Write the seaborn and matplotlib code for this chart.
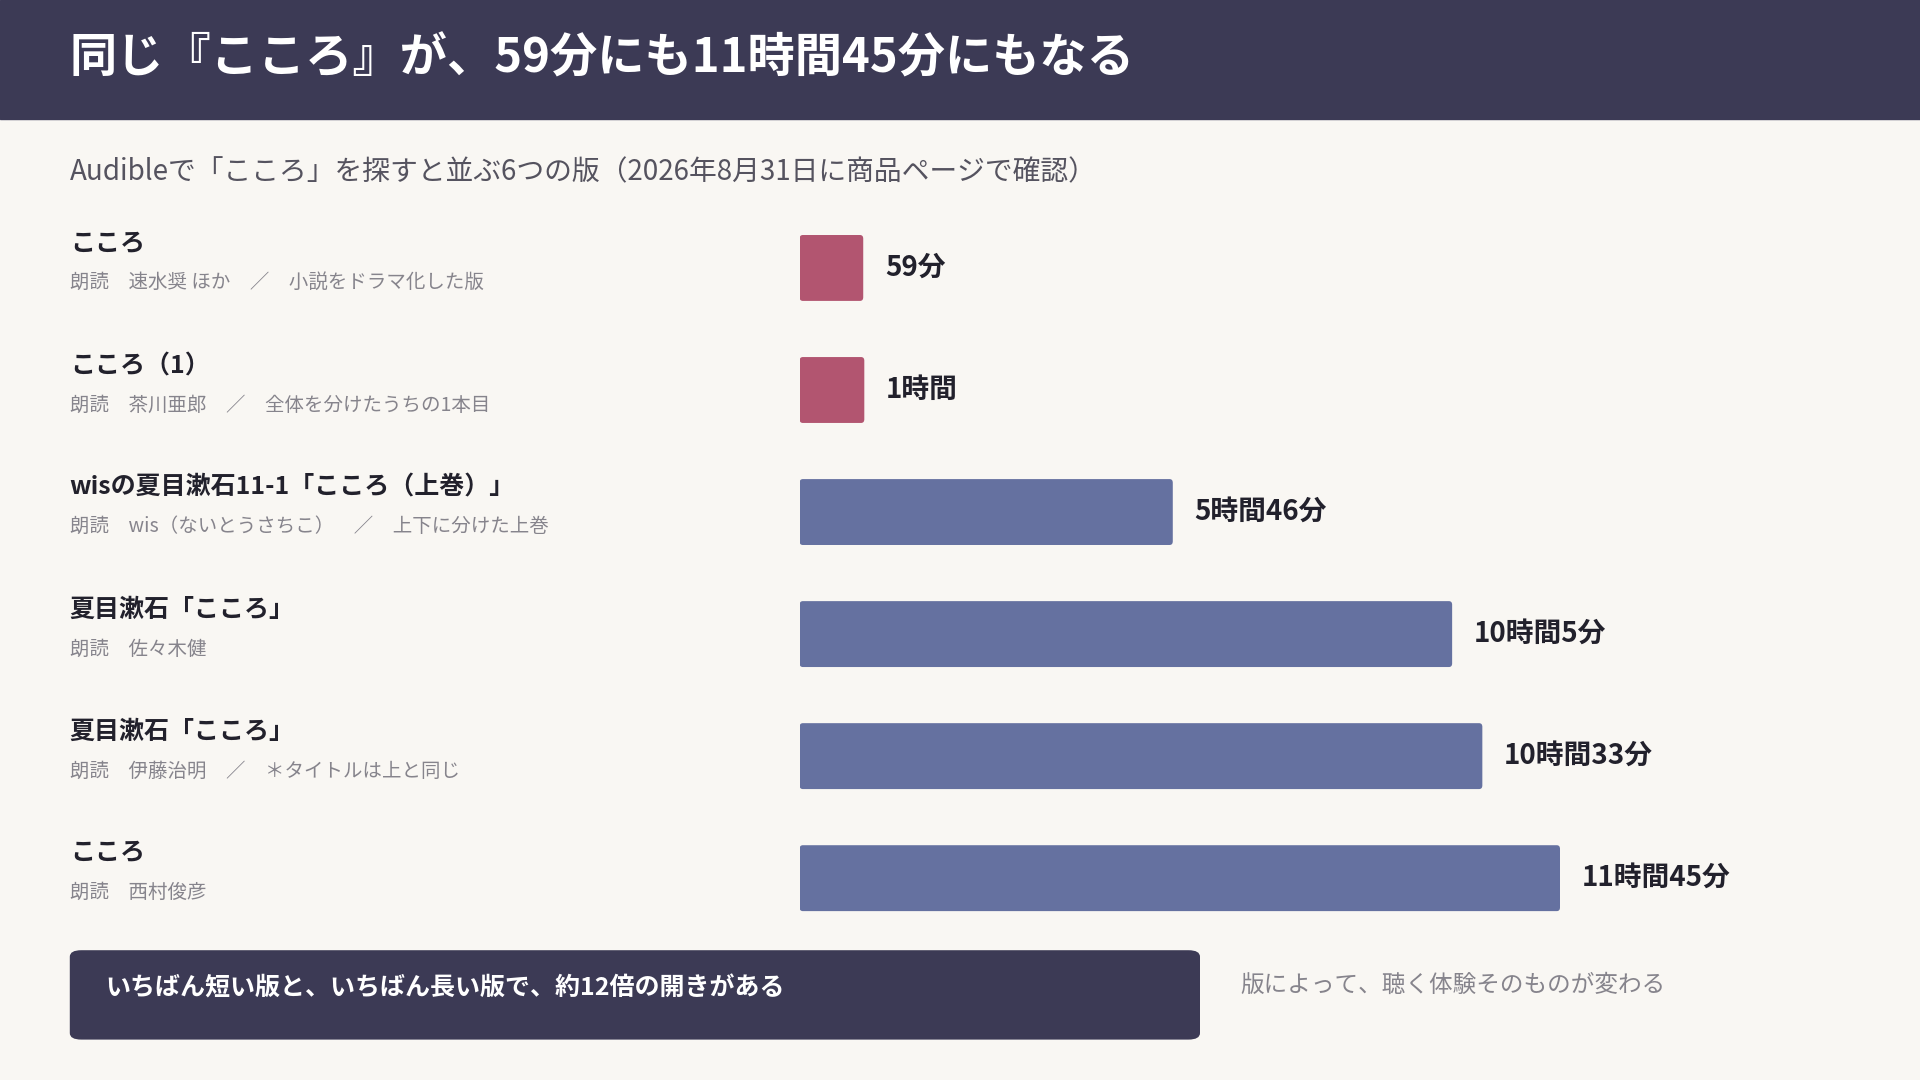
import pandas as pd
import matplotlib.pyplot as plt
import seaborn as sns
from matplotlib.patches import FancyBboxPatch, Rectangle

# data
titles = ["こころ", "こころ（1）", "wisの夏目漱石11-1「こころ（上巻）」",
          "夏目漱石「こころ」", "夏目漱石「こころ」", "こころ"]
notes = ["朗読　速水奨 ほか　／　小説をドラマ化した版",
         "朗読　茶川亜郎　／　全体を分けたうちの1本目",
         "朗読　wis（ないとうさちこ）　／　上下に分けた上巻",
         "朗読　佐々木健",
         "朗読　伊藤治明　／　＊タイトルは上と同じ",
         "朗読　西村俊彦"]
minutes = [59, 60, 346, 605, 633, 705]
value_labels = ["59分", "1時間", "5時間46分", "10時間5分", "10時間33分", "11時間45分"]
groups = ["short", "short", "long", "long", "long", "long"]

BG = "#F9F7F3"
DARK = "#3C3A55"
RED = "#C2456A"
BLUE = "#5B6BAA"
W, H = 1568, 882  # reference layout units

sns.set_theme(style="white")
plt.rcParams['font.family'] = ['Noto Sans CJK JP', 'DejaVu Sans']

fig = plt.figure(figsize=(19.2, 10.8), dpi=100, facecolor=BG)

def fx(x): return x / W
def fy(y): return 1 - y / H

# header band
fig.patches.append(Rectangle((0, fy(97)), 1, 97 / H, transform=fig.transFigure, color=DARK, zorder=0))
fig.text(fx(57), fy(48), "同じ『こころ』が、59分にも11時間45分にもなる", color="white",
         fontsize=34, fontweight="bold", va="center")
fig.text(fx(57), fy(141), "Audibleで「こころ」を探すと並ぶ6つの版（2026年8月31日に商品ページで確認）",
         color="#55535F", fontsize=20, va="center")

df = pd.DataFrame({"id": [str(i) for i in range(6)], "minutes": minutes, "group": groups})

ax = fig.add_axes([fx(653), fy(767), fx(1274) - fx(653), (767 - 169) / H])
ax.set_facecolor("none")
sns.barplot(data=df, x="minutes", y="id", hue="group", palette={"short": RED, "long": BLUE},
            dodge=False, width=0.52, legend=False, ax=ax)
ax.set_xlim(0, 705)
ax.set_ylim(5.5, -0.5)
ax.axis("off")

# round the bar corners
for p in list(ax.patches):
    x0, y0, w, h = p.get_x(), p.get_y(), p.get_width(), p.get_height()
    if w <= 0:
        continue
    fb = FancyBboxPatch((x0 + 3, y0 + 0.02), w - 6, h - 0.04, boxstyle="round,pad=3",
                        mutation_aspect=0.01, facecolor=p.get_facecolor(), edgecolor="none")
    p.remove()
    ax.add_patch(fb)

for i, (m, lab) in enumerate(zip(minutes, value_labels)):
    ax.text(m + 20, i, lab, va="center", ha="left", fontsize=20, fontweight="bold", color="#22212C")

ys = [219, 319, 418, 518, 618, 717]
for y, t, n in zip(ys, titles, notes):
    fig.text(fx(57), fy(y - 20), t, fontsize=18, fontweight="bold", color="#22212C", va="center")
    fig.text(fx(57), fy(y + 12), n, fontsize=14, color="#86848C", va="center")

# bottom callout
fig.patches.append(FancyBboxPatch((fx(57), fy(849)), fx(980) - fx(57), (849 - 776) / H,
                                  boxstyle="round,pad=0,rounding_size=0.006",
                                  transform=fig.transFigure, facecolor=DARK, edgecolor="none"))
fig.text(fx(86), fy(807), "いちばん短い版と、いちばん長い版で、約12倍の開きがある",
         color="white", fontsize=18, fontweight="bold", va="center")
fig.text(fx(1013), fy(805), "版によって、聴く体験そのものが変わる", color="#86848C", fontsize=17, va="center")

fig.savefig("out.png", dpi=100, facecolor=BG)
